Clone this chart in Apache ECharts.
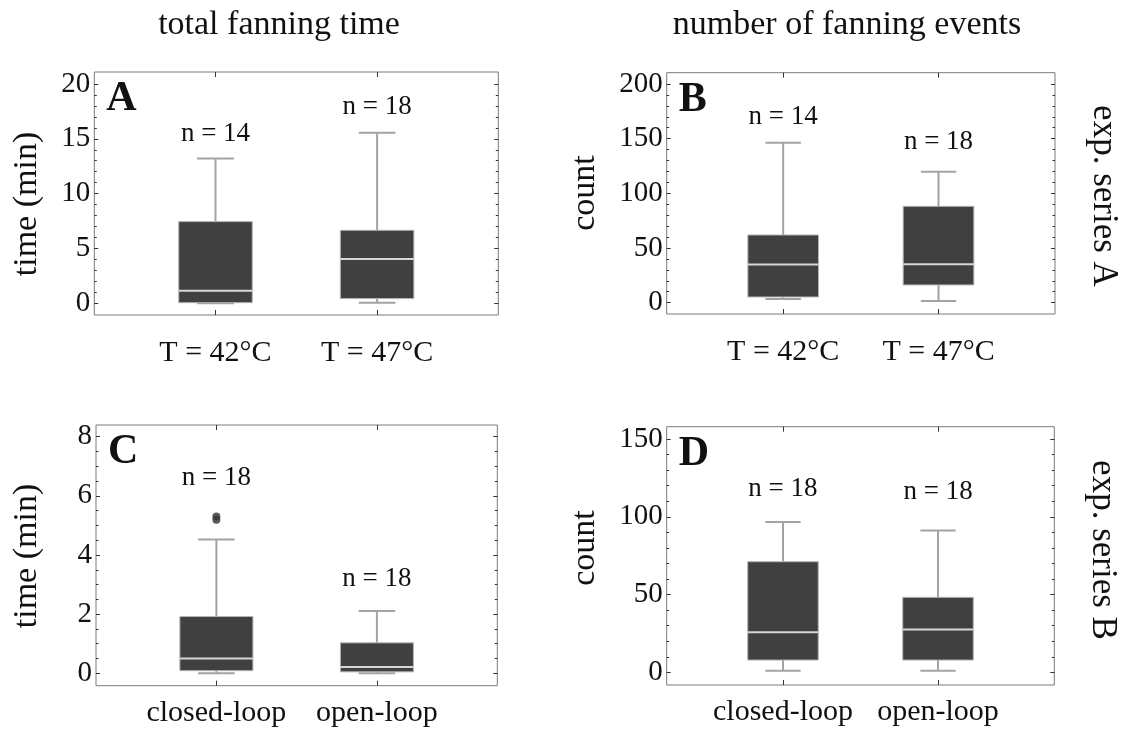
<!DOCTYPE html>
<html>
<head>
<meta charset="utf-8">
<script src="https://cdn.jsdelivr.net/npm/echarts@6/dist/echarts.min.js"></script>
<style>
  html, body { margin: 0; padding: 0; background: #fff; }
  #chart { width: 1127px; height: 744px; }
</style>
</head>
<body>
<div id="chart"></div>
<script>
// ---------- DATA ----------
const tempCategories = ['T = 42°C', 'T = 47°C'];
const loopCategories = ['closed-loop', 'open-loop'];

// Panel A: total fanning time (min), exp. series A
const aMin = [0.0, 0.05];
const aQ1 = [0.06, 0.43];
const aMedian = [1.15, 4.04];
const aQ3 = [7.45, 6.66];
const aMax = [13.2, 15.55];
const aN = [14, 18];

// Panel B: number of fanning events, exp. series A
const bMin = [3.4, 1.5];
const bQ1 = [5.2, 16.2];
const bMedian = [34.8, 35.1];
const bQ3 = [61.9, 88.1];
const bMax = [146.3, 119.8];
const bN = [14, 18];

// Panel C: total fanning time (min), exp. series B
const cMin = [0.0, 0.0];
const cQ1 = [0.09, 0.05];
const cMedian = [0.50, 0.21];
const cQ3 = [1.92, 1.03];
const cMax = [4.52, 2.11];
const cOutliers = [[0, 5.30], [0, 5.19]];
const cN = [18, 18];

// Panel D: number of fanning events, exp. series B
const dMin = [1.1, 1.1];
const dQ1 = [7.9, 7.9];
const dMedian = [25.7, 27.6];
const dQ3 = [71.1, 48.2];
const dMax = [96.6, 91.1];
const dN = [18, 18];

// ---------- LAYOUT / STYLE ----------
const SERIF = '"Liberation Serif", "DejaVu Serif", serif';
const BOX_FILL = '#404040';
const BOX_EDGE = '#b4b4b4';
const WHISKER = '#a3a3a3';
const MEDIAN = '#d6d6d6';
const FRAME = '#7a7a7a';
const TICK = '#333333';

const panels = [
  { letter: 'A', grid: { left: 94.3, top: 72, width: 404, height: 243 },
    yMin: -1.064, yMax: 21.09, major: 5, minor: 1, labelTop: 20,
    cats: tempCategories, stats: [aMin, aQ1, aMedian, aQ3, aMax], n: aN, outliers: [],
    nOffset: [25, 25.7], xMargin: 23 },
  { letter: 'B', grid: { left: 666.7, top: 72.7, width: 388.3, height: 241.3 },
    yMin: -10.37, yMax: 210.3, major: 50, minor: 10, labelTop: 200,
    cats: tempCategories, stats: [bMin, bQ1, bMedian, bQ3, bMax], n: bN, outliers: [],
    nOffset: [25.7, 30], xMargin: 23 },
  { letter: 'C', grid: { left: 96, top: 425, width: 401.3, height: 260.7 },
    yMin: -0.418, yMax: 8.394, major: 2, minor: 0.5, labelTop: 8,
    cats: loopCategories, stats: [cMin, cQ1, cMedian, cQ3, cMax], n: cN, outliers: cOutliers,
    nOffset: [39, 32], xMargin: 12 },
  { letter: 'D', grid: { left: 666.7, top: 426.7, width: 387.6, height: 258.3 },
    yMin: -8.14, yMax: 157.9, major: 50, minor: 10, labelTop: 150,
    cats: loopCategories, stats: [dMin, dQ1, dMedian, dQ3, dMax], n: dN, outliers: [],
    nOffset: [33.5, 39], xMargin: 12 }
];
const BOX_WIDTH = 0.455;   // in category units
const X_MIN = -0.75, X_MAX = 1.75;

function range(from, to, step) {
  const out = [];
  const k = Math.round((to - from) / step);
  for (let i = 0; i <= k; i++) out.push(+(from + i * step).toFixed(6));
  return out;
}

const grids = [], xAxes = [], yAxes = [], series = [], graphics = [];

panels.forEach((p, pi) => {
  grids.push(Object.assign({ show: true, borderColor: FRAME, borderWidth: 1, backgroundColor: 'transparent' }, p.grid));
  const majors = range(0, p.labelTop, p.major);
  const minors = range(0, p.labelTop, p.minor);
  const xi = xAxes.length;
  const cats = p.cats;
  const noLine = { show: false, onZero: false };
  // bottom x axis (labels)
  xAxes.push({
    gridIndex: pi, type: 'value', min: X_MIN, max: X_MAX, position: 'bottom',
    axisLine: noLine, splitLine: { show: false },
    axisTick: { show: true, inside: true, length: 5, customValues: [0, 1], lineStyle: { color: TICK, width: 1 } },
    axisLabel: { show: true, customValues: [0, 1], formatter: v => cats[Math.round(v)],
      fontFamily: SERIF, fontSize: 30, color: '#111', margin: p.xMargin }
  });
  // top x axis (ticks only)
  xAxes.push({
    gridIndex: pi, type: 'value', min: X_MIN, max: X_MAX, position: 'top',
    axisLine: noLine, splitLine: { show: false },
    axisTick: { show: true, inside: true, length: 5, customValues: [0, 1], lineStyle: { color: TICK, width: 1 } },
    axisLabel: { show: false }
  });
  const yi = yAxes.length;
  const yBase = { gridIndex: pi, type: 'value', min: p.yMin, max: p.yMax,
    axisLine: noLine, splitLine: { show: false } };
  // left major (labels)
  yAxes.push(Object.assign({}, yBase, {
    position: 'left',
    axisTick: { show: true, inside: true, length: 4, customValues: majors, lineStyle: { color: TICK, width: 1 } },
    axisLabel: { show: true, customValues: majors, fontFamily: SERIF, fontSize: 29, color: '#111', margin: 4 }
  }));
  // left minor
  yAxes.push(Object.assign({}, yBase, {
    position: 'left',
    axisTick: { show: true, inside: true, length: 2.5, customValues: minors, lineStyle: { color: TICK, width: 1 } },
    axisLabel: { show: false }
  }));
  // right major
  yAxes.push(Object.assign({}, yBase, {
    position: 'right',
    axisTick: { show: true, inside: true, length: 4, customValues: majors, lineStyle: { color: TICK, width: 1 } },
    axisLabel: { show: false }
  }));
  // right minor
  yAxes.push(Object.assign({}, yBase, {
    position: 'right',
    axisTick: { show: true, inside: true, length: 2.5, customValues: minors, lineStyle: { color: TICK, width: 1 } },
    axisLabel: { show: false }
  }));

  const [mins, q1s, meds, q3s, maxs] = p.stats;
  const data = cats.map((c, i) => {
    let top = maxs[i];
    p.outliers.forEach(o => { if (o[0] === i && o[1] > top) top = o[1]; });
    return [i, mins[i], q1s[i], meds[i], q3s[i], maxs[i], top, p.n[i]];
  });

  series.push({
    type: 'custom', xAxisIndex: xi, yAxisIndex: yi, silent: true,
    encode: { x: 0, y: [1, 2, 3, 4, 5, 6] },
    data: data,
    renderItem: function (params, api) {
      const x = api.value(0);
      const lo = api.value(1), q1 = api.value(2), med = api.value(3), q3 = api.value(4), hi = api.value(5);
      const top = api.value(6), n = api.value(7);
      const cx = api.coord([x, med])[0];
      const hw = api.coord([x + BOX_WIDTH / 2, med])[0] - cx;
      const yLo = api.coord([x, lo])[1], yQ1 = api.coord([x, q1])[1], yMed = api.coord([x, med])[1];
      const yQ3 = api.coord([x, q3])[1], yHi = api.coord([x, hi])[1], yTop = api.coord([x, top])[1];
      const wStyle = { stroke: WHISKER, lineWidth: 2 };
      return {
        type: 'group',
        children: [
          { type: 'line', shape: { x1: cx, y1: yHi, x2: cx, y2: yQ3 }, style: wStyle },
          { type: 'line', shape: { x1: cx, y1: yQ1, x2: cx, y2: yLo }, style: wStyle },
          { type: 'line', shape: { x1: cx - hw / 2, y1: yHi, x2: cx + hw / 2, y2: yHi }, style: wStyle },
          { type: 'line', shape: { x1: cx - hw / 2, y1: yLo, x2: cx + hw / 2, y2: yLo }, style: wStyle },
          { type: 'rect', shape: { x: cx - hw, y: yQ3, width: 2 * hw, height: yQ1 - yQ3 },
            style: { fill: BOX_FILL, stroke: BOX_EDGE, lineWidth: 1 } },
          { type: 'line', shape: { x1: cx - hw, y1: yMed, x2: cx + hw, y2: yMed }, style: { stroke: MEDIAN, lineWidth: 2 } },
          { type: 'text', x: cx, y: yTop - p.nOffset[params.dataIndex],
            style: { text: 'n = ' + n, font: '27px ' + SERIF, fill: '#111', align: 'center', verticalAlign: 'middle' } }
        ]
      };
    }
  });

  if (p.outliers.length) {
    series.push({
      type: 'scatter', xAxisIndex: xi, yAxisIndex: yi, silent: true,
      symbol: 'circle', symbolSize: 8, itemStyle: { color: '#333' },
      data: p.outliers
    });
  }

  // panel letter
  graphics.push({ type: 'text', x: p.grid.left + 12, y: p.grid.top + 27,
    style: { text: p.letter, font: 'bold 42px ' + SERIF, fill: '#111', align: 'left', verticalAlign: 'middle' } });
});

// column titles, axis names, row labels
const texts = [
  { t: 'total fanning time', x: 279, y: 25, r: 0, s: 34 },
  { t: 'number of fanning events', x: 847, y: 25, r: 0, s: 34 },
  { t: 'time (min)', x: 27, y: 204, r: Math.PI / 2, s: 34 },
  { t: 'time (min)', x: 27, y: 556, r: Math.PI / 2, s: 34 },
  { t: 'count', x: 585, y: 193, r: Math.PI / 2, s: 34 },
  { t: 'count', x: 585, y: 548, r: Math.PI / 2, s: 34 },
  { t: 'exp. series A', x: 1103, y: 196, r: -Math.PI / 2, s: 35 },
  { t: 'exp. series B', x: 1102, y: 550, r: -Math.PI / 2, s: 35 }
];
texts.forEach(o => graphics.push({ type: 'text', x: o.x, y: o.y, rotation: o.r,
  style: { text: o.t, font: o.s + 'px ' + SERIF, fill: '#111', align: 'center', verticalAlign: 'middle' } }));

const chart = echarts.init(document.getElementById('chart'), null, { renderer: 'canvas' });
chart.setOption({
  animation: false,
  backgroundColor: '#fff',
  grid: grids,
  xAxis: xAxes,
  yAxis: yAxes,
  series: series,
  graphic: graphics
});
</script>
</body>
</html>
